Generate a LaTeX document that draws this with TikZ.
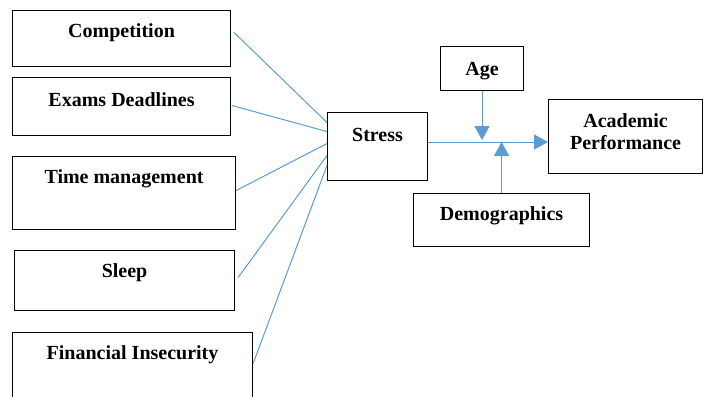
\documentclass[tikz,border=0pt]{standalone}
\usepackage{fontspec}
\setmainfont{Liberation Serif}
\usetikzlibrary{arrows.meta}

\definecolor{linkblue}{HTML}{5B9BD5}

\begin{document}
\begin{tikzpicture}[
        x=1pt, y=-1pt,
        box/.style={draw, line width=1.1pt, inner sep=0pt, anchor=north west},
        caption/.style={label={[font=\fontsize{20}{22}\selectfont\bfseries, align=center, anchor=center, yshift=-23pt]north:#1}},
        link/.style={draw=linkblue, line width=1pt},
        mod/.style={link, -{Triangle[length=14pt, width=15pt]}}
    ]
        \clip (0,0) rectangle (706,396);

        % Stressors on the left
        \node[box, minimum width=218pt, minimum height=56pt, caption=Competition] (comp) at (12,10) {};
        \node[box, minimum width=218pt, minimum height=58pt, caption=Exams Deadlines] (exams) at (12,77) {};
        \node[box, minimum width=223pt, minimum height=73pt, caption=Time management] (time) at (12,156) {};
        \node[box, minimum width=220pt, minimum height=60pt, caption=Sleep] (sleep) at (14,250) {};
        \node[box, minimum width=240pt, minimum height=70pt, caption=Financial Insecurity] (fin) at (12,332) {};

        % Stress, moderators and outcome
        \node[box, minimum width=100pt, minimum height=68pt, caption=Stress] (stress) at (327,112) {};
        \node[box, minimum width=83pt, minimum height=44pt, label={[font=\fontsize{20}{22}\selectfont\bfseries, anchor=center, yshift=-25pt]north:Age}] (age) at (440,46) {};
        \node[box, minimum width=154pt, minimum height=74pt, label={[font=\fontsize{20}{22}\selectfont\bfseries, align=center, anchor=center, yshift=-33pt]north:Academic\\Performance}] (ap) at (548,99) {};
        \node[box, minimum width=176pt, minimum height=53pt, caption=Demographics] (demo) at (413,193) {};

        \coordinate (axis) at (0,142);

        % Connectors into Stress
        \foreach \src/\dx/\dy/\ey in {comp/3/6/24, exams/1/1/15, time/0/2.5/3, sleep/3/3/-9, fin/0/4/-19} {
            \draw[link] ([xshift=\dx pt, yshift=\dy pt]\src.east) -- ([yshift=\ey pt]stress.west);
        }

        % Stress -> Academic Performance, moderated by Age and Demographics
        \draw[mod] (stress.east |- axis) -- (ap.west |- axis);
        \draw[mod] (age.south) -- ([yshift=2pt]age.south |- axis);
        \draw[mod] (demo.north) -- (demo.north |- axis);

    \end{tikzpicture}
\end{document}
